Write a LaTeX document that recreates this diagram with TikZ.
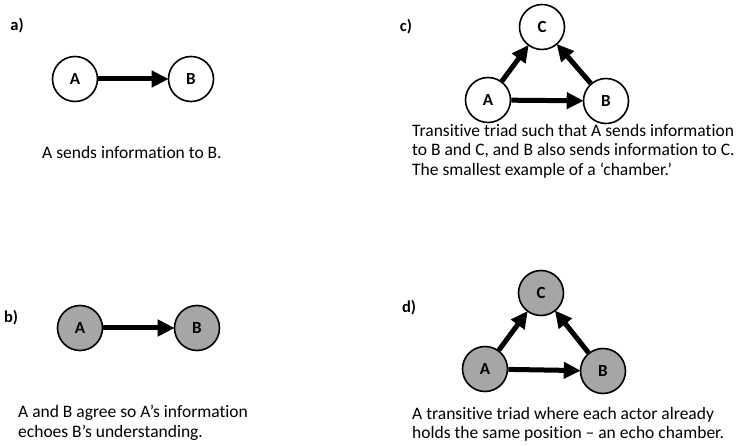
\documentclass[tikz,border=0pt]{standalone}
\usepackage{fontspec}
\setmainfont[Ligatures=NoCommon]{Carlito}
\usetikzlibrary{arrows.meta}
\tikzset{
    actor/.style={circle, draw, line width=1.6pt, minimum size=45pt, inner sep=0pt, font=\fontsize{17}{19}\selectfont\bfseries},
    agreed/.style={actor, fill=black!35},
    sends/.style={line width=5pt, -{Triangle[length=17pt, width=16pt]}, shorten >=-1pt},
    caption/.style={anchor=north west, align=left, inner sep=0pt, font=\fontsize{17.5}{19.5}\selectfont},
    panel/.style={anchor=center, inner sep=0pt, font=\fontsize{16.5}{18}\selectfont\bfseries}
}
\begin{document}
\begin{tikzpicture}[x=1pt, y=-1pt]
            \useasboundingbox (0, 0) rectangle (740, 446);
            % a) single tie
            \node[panel] (alabel) at (17, 26) {a)};
            \node[actor] (aA) at (75, 79) {A};
            \node[actor] (aB) at (191, 79) {B};
            \draw[sends] (aA) -- (aB);
            \node[caption] (atext) at (42, 146) {A sends information to B.};
            % b) single tie, shared view
            \node[panel] (blabel) at (11, 318) {b)};
            \node[agreed] (bA) at (80, 328) {A};
            \node[agreed] (bB) at (197, 328) {B};
            \draw[sends] (bA) -- (bB);
            \node[caption] (btext) at (18, 405) {A and B agree so A’s information\\echoes B’s understanding.};
            % c) transitive triad
            \node[panel] (clabel) at (406, 27) {c)};
            \node[actor] (cC) at (542, 27) {C};
            \node[actor] (cA) at (488, 100) {A};
            \node[actor] (cB) at (606, 101) {B};
            \draw[sends] (cA) -- (cB);
            \draw[sends] (cA) -- (cC);
            \draw[sends] (cB) -- (cC);
            \node[caption] (ctext) at (412, 124) {Transitive triad such that A sends information\\to B and C, and B also sends information to C.\\The smallest example of a ‘chamber.’};
            % d) echo chamber
            \node[panel] (dlabel) at (409, 308) {d)};
            \node[agreed] (dC) at (541, 293) {C};
            \node[agreed] (dA) at (485, 369) {A};
            \node[agreed] (dB) at (603, 371) {B};
            \draw[sends] (dA) -- (dB);
            \draw[sends] (dA) -- (dC);
            \draw[sends] (dB) -- (dC);
            \node[caption] (dtext) at (412, 407) {A transitive triad where each actor already\\holds the same position -- an echo chamber.};
        \end{tikzpicture}
\end{document}
